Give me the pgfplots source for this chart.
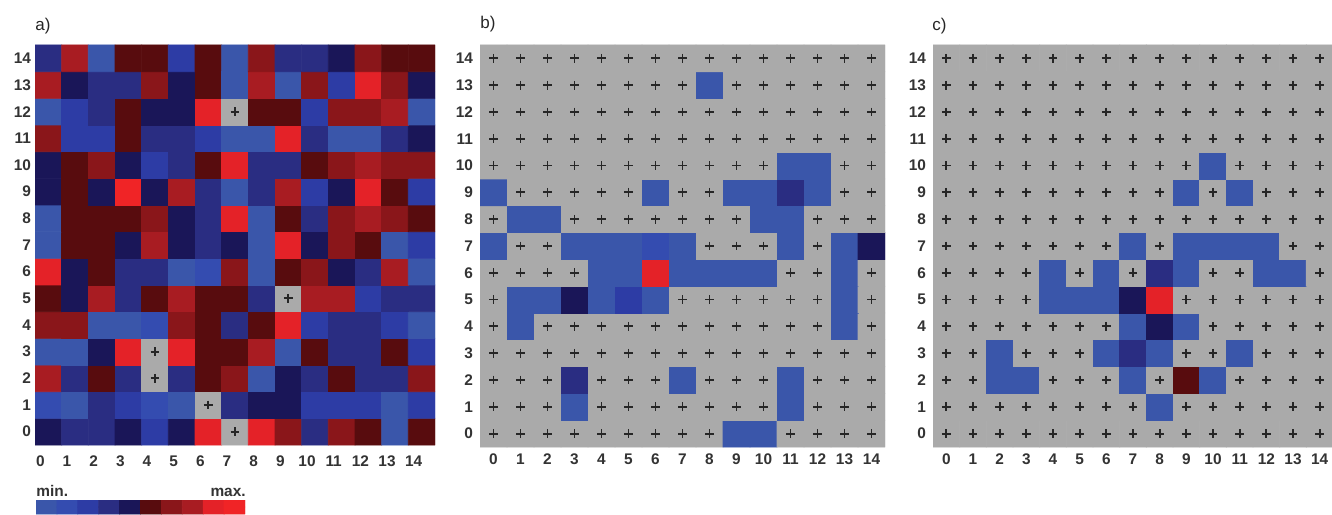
\documentclass[border=0pt]{standalone}
\usepackage{pgfplots}
\pgfplotsset{compat=1.18}
\usepackage{pgfplotstable}
\usepackage{fontspec}
\setmainfont{Liberation Sans}

\pgfplotsset{
  colormap={heat}{rgb255=(170,170,170) rgb255=(58,86,170) rgb255=(52,76,176) rgb255=(45,60,165) rgb255=(42,45,130) rgb255=(26,22,88) rgb255=(88,12,14) rgb255=(138,22,26) rgb255=(168,28,34) rgb255=(228,34,40) rgb255=(240,36,38)},
  panel/.style={scale only axis, anchor=south west,
    xmin=-0.5, xmax=14.5, ymin=-0.5, ymax=14.5, enlargelimits=false,
    xtick={0,...,14}, ytick={0,...,14},
    axis line style={draw=none}, major tick length=0pt,
    tick label style={font=\fontsize{7.7}{9}\selectfont\bfseries, text=black!80},
    /pgf/number format/assume math mode=true,
    colormap name=heat, colormap access=direct},
  plusmarks/.style={only marks, mark=+, mark size=2.2pt, black!85, mark options={line width=0.9pt}}
}

\pgfplotstableread[row sep=\\]{
x y c\\
0 0 5\\ 1 0 4\\ 2 0 4\\ 3 0 5\\ 4 0 3\\ 5 0 5\\ 6 0 9\\ 7 0 0\\ 8 0 9\\ 9 0 7\\ 10 0 4\\ 11 0 7\\ 12 0 6\\ 13 0 1\\ 14 0 6\\
0 1 2\\ 1 1 1\\ 2 1 4\\ 3 1 3\\ 4 1 2\\ 5 1 1\\ 6 1 0\\ 7 1 4\\ 8 1 5\\ 9 1 5\\ 10 1 3\\ 11 1 3\\ 12 1 3\\ 13 1 1\\ 14 1 3\\
0 2 8\\ 1 2 4\\ 2 2 6\\ 3 2 4\\ 4 2 0\\ 5 2 4\\ 6 2 6\\ 7 2 7\\ 8 2 1\\ 9 2 5\\ 10 2 4\\ 11 2 6\\ 12 2 4\\ 13 2 4\\ 14 2 7\\
0 3 1\\ 1 3 1\\ 2 3 5\\ 3 3 9\\ 4 3 0\\ 5 3 9\\ 6 3 6\\ 7 3 6\\ 8 3 8\\ 9 3 1\\ 10 3 6\\ 11 3 4\\ 12 3 4\\ 13 3 6\\ 14 3 3\\
0 4 7\\ 1 4 7\\ 2 4 1\\ 3 4 1\\ 4 4 2\\ 5 4 7\\ 6 4 6\\ 7 4 4\\ 8 4 6\\ 9 4 9\\ 10 4 3\\ 11 4 4\\ 12 4 4\\ 13 4 3\\ 14 4 1\\
0 5 6\\ 1 5 5\\ 2 5 8\\ 3 5 4\\ 4 5 6\\ 5 5 8\\ 6 5 6\\ 7 5 6\\ 8 5 4\\ 9 5 0\\ 10 5 8\\ 11 5 8\\ 12 5 3\\ 13 5 4\\ 14 5 4\\
0 6 9\\ 1 6 5\\ 2 6 6\\ 3 6 4\\ 4 6 4\\ 5 6 1\\ 6 6 2\\ 7 6 7\\ 8 6 1\\ 9 6 6\\ 10 6 7\\ 11 6 5\\ 12 6 4\\ 13 6 8\\ 14 6 1\\
0 7 1\\ 1 7 6\\ 2 7 6\\ 3 7 5\\ 4 7 8\\ 5 7 5\\ 6 7 4\\ 7 7 5\\ 8 7 1\\ 9 7 9\\ 10 7 5\\ 11 7 7\\ 12 7 6\\ 13 7 1\\ 14 7 3\\
0 8 1\\ 1 8 6\\ 2 8 6\\ 3 8 6\\ 4 8 7\\ 5 8 5\\ 6 8 4\\ 7 8 9\\ 8 8 1\\ 9 8 6\\ 10 8 4\\ 11 8 7\\ 12 8 8\\ 13 8 7\\ 14 8 6\\
0 9 5\\ 1 9 6\\ 2 9 5\\ 3 9 10\\ 4 9 5\\ 5 9 8\\ 6 9 4\\ 7 9 1\\ 8 9 4\\ 9 9 8\\ 10 9 3\\ 11 9 5\\ 12 9 9\\ 13 9 6\\ 14 9 3\\
0 10 5\\ 1 10 6\\ 2 10 7\\ 3 10 5\\ 4 10 3\\ 5 10 4\\ 6 10 6\\ 7 10 9\\ 8 10 4\\ 9 10 4\\ 10 10 6\\ 11 10 7\\ 12 10 8\\ 13 10 7\\ 14 10 7\\
0 11 7\\ 1 11 3\\ 2 11 3\\ 3 11 6\\ 4 11 4\\ 5 11 4\\ 6 11 3\\ 7 11 1\\ 8 11 1\\ 9 11 9\\ 10 11 4\\ 11 11 1\\ 12 11 1\\ 13 11 4\\ 14 11 5\\
0 12 1\\ 1 12 3\\ 2 12 4\\ 3 12 6\\ 4 12 5\\ 5 12 5\\ 6 12 9\\ 7 12 0\\ 8 12 6\\ 9 12 6\\ 10 12 3\\ 11 12 7\\ 12 12 7\\ 13 12 8\\ 14 12 1\\
0 13 8\\ 1 13 5\\ 2 13 4\\ 3 13 4\\ 4 13 7\\ 5 13 5\\ 6 13 6\\ 7 13 1\\ 8 13 8\\ 9 13 1\\ 10 13 7\\ 11 13 3\\ 12 13 9\\ 13 13 7\\ 14 13 5\\
0 14 4\\ 1 14 8\\ 2 14 1\\ 3 14 6\\ 4 14 6\\ 5 14 3\\ 6 14 6\\ 7 14 1\\ 8 14 7\\ 9 14 4\\ 10 14 4\\ 11 14 5\\ 12 14 7\\ 13 14 6\\ 14 14 6\\
}\tabA

\pgfplotstableread[row sep=\\]{
x y c\\
0 0 0\\ 1 0 0\\ 2 0 0\\ 3 0 0\\ 4 0 0\\ 5 0 0\\ 6 0 0\\ 7 0 0\\ 8 0 0\\ 9 0 1\\ 10 0 1\\ 11 0 0\\ 12 0 0\\ 13 0 0\\ 14 0 0\\
0 1 0\\ 1 1 0\\ 2 1 0\\ 3 1 1\\ 4 1 0\\ 5 1 0\\ 6 1 0\\ 7 1 0\\ 8 1 0\\ 9 1 0\\ 10 1 0\\ 11 1 1\\ 12 1 0\\ 13 1 0\\ 14 1 0\\
0 2 0\\ 1 2 0\\ 2 2 0\\ 3 2 4\\ 4 2 0\\ 5 2 0\\ 6 2 0\\ 7 2 1\\ 8 2 0\\ 9 2 0\\ 10 2 0\\ 11 2 1\\ 12 2 0\\ 13 2 0\\ 14 2 0\\
0 3 0\\ 1 3 0\\ 2 3 0\\ 3 3 0\\ 4 3 0\\ 5 3 0\\ 6 3 0\\ 7 3 0\\ 8 3 0\\ 9 3 0\\ 10 3 0\\ 11 3 0\\ 12 3 0\\ 13 3 0\\ 14 3 0\\
0 4 0\\ 1 4 1\\ 2 4 0\\ 3 4 0\\ 4 4 0\\ 5 4 0\\ 6 4 0\\ 7 4 0\\ 8 4 0\\ 9 4 0\\ 10 4 0\\ 11 4 0\\ 12 4 0\\ 13 4 1\\ 14 4 0\\
0 5 0\\ 1 5 1\\ 2 5 1\\ 3 5 5\\ 4 5 1\\ 5 5 3\\ 6 5 1\\ 7 5 0\\ 8 5 0\\ 9 5 0\\ 10 5 0\\ 11 5 0\\ 12 5 0\\ 13 5 1\\ 14 5 0\\
0 6 0\\ 1 6 0\\ 2 6 0\\ 3 6 0\\ 4 6 1\\ 5 6 1\\ 6 6 9\\ 7 6 1\\ 8 6 1\\ 9 6 1\\ 10 6 1\\ 11 6 0\\ 12 6 0\\ 13 6 1\\ 14 6 0\\
0 7 1\\ 1 7 0\\ 2 7 0\\ 3 7 1\\ 4 7 1\\ 5 7 1\\ 6 7 2\\ 7 7 1\\ 8 7 0\\ 9 7 0\\ 10 7 0\\ 11 7 1\\ 12 7 0\\ 13 7 1\\ 14 7 5\\
0 8 0\\ 1 8 1\\ 2 8 1\\ 3 8 0\\ 4 8 0\\ 5 8 0\\ 6 8 0\\ 7 8 0\\ 8 8 0\\ 9 8 0\\ 10 8 1\\ 11 8 1\\ 12 8 0\\ 13 8 0\\ 14 8 0\\
0 9 1\\ 1 9 0\\ 2 9 0\\ 3 9 0\\ 4 9 0\\ 5 9 0\\ 6 9 1\\ 7 9 0\\ 8 9 0\\ 9 9 1\\ 10 9 1\\ 11 9 4\\ 12 9 1\\ 13 9 0\\ 14 9 0\\
0 10 0\\ 1 10 0\\ 2 10 0\\ 3 10 0\\ 4 10 0\\ 5 10 0\\ 6 10 0\\ 7 10 0\\ 8 10 0\\ 9 10 0\\ 10 10 0\\ 11 10 1\\ 12 10 1\\ 13 10 0\\ 14 10 0\\
0 11 0\\ 1 11 0\\ 2 11 0\\ 3 11 0\\ 4 11 0\\ 5 11 0\\ 6 11 0\\ 7 11 0\\ 8 11 0\\ 9 11 0\\ 10 11 0\\ 11 11 0\\ 12 11 0\\ 13 11 0\\ 14 11 0\\
0 12 0\\ 1 12 0\\ 2 12 0\\ 3 12 0\\ 4 12 0\\ 5 12 0\\ 6 12 0\\ 7 12 0\\ 8 12 0\\ 9 12 0\\ 10 12 0\\ 11 12 0\\ 12 12 0\\ 13 12 0\\ 14 12 0\\
0 13 0\\ 1 13 0\\ 2 13 0\\ 3 13 0\\ 4 13 0\\ 5 13 0\\ 6 13 0\\ 7 13 0\\ 8 13 1\\ 9 13 0\\ 10 13 0\\ 11 13 0\\ 12 13 0\\ 13 13 0\\ 14 13 0\\
0 14 0\\ 1 14 0\\ 2 14 0\\ 3 14 0\\ 4 14 0\\ 5 14 0\\ 6 14 0\\ 7 14 0\\ 8 14 0\\ 9 14 0\\ 10 14 0\\ 11 14 0\\ 12 14 0\\ 13 14 0\\ 14 14 0\\
}\tabB

\pgfplotstableread[row sep=\\]{
x y c\\
0 0 0\\ 1 0 0\\ 2 0 0\\ 3 0 0\\ 4 0 0\\ 5 0 0\\ 6 0 0\\ 7 0 0\\ 8 0 0\\ 9 0 0\\ 10 0 0\\ 11 0 0\\ 12 0 0\\ 13 0 0\\ 14 0 0\\
0 1 0\\ 1 1 0\\ 2 1 0\\ 3 1 0\\ 4 1 0\\ 5 1 0\\ 6 1 0\\ 7 1 0\\ 8 1 1\\ 9 1 0\\ 10 1 0\\ 11 1 0\\ 12 1 0\\ 13 1 0\\ 14 1 0\\
0 2 0\\ 1 2 0\\ 2 2 1\\ 3 2 1\\ 4 2 0\\ 5 2 0\\ 6 2 0\\ 7 2 1\\ 8 2 0\\ 9 2 6\\ 10 2 1\\ 11 2 0\\ 12 2 0\\ 13 2 0\\ 14 2 0\\
0 3 0\\ 1 3 0\\ 2 3 1\\ 3 3 0\\ 4 3 0\\ 5 3 0\\ 6 3 1\\ 7 3 4\\ 8 3 1\\ 9 3 0\\ 10 3 0\\ 11 3 1\\ 12 3 0\\ 13 3 0\\ 14 3 0\\
0 4 0\\ 1 4 0\\ 2 4 0\\ 3 4 0\\ 4 4 0\\ 5 4 0\\ 6 4 0\\ 7 4 1\\ 8 4 5\\ 9 4 1\\ 10 4 0\\ 11 4 0\\ 12 4 0\\ 13 4 0\\ 14 4 0\\
0 5 0\\ 1 5 0\\ 2 5 0\\ 3 5 0\\ 4 5 1\\ 5 5 1\\ 6 5 1\\ 7 5 5\\ 8 5 9\\ 9 5 0\\ 10 5 0\\ 11 5 0\\ 12 5 0\\ 13 5 0\\ 14 5 0\\
0 6 0\\ 1 6 0\\ 2 6 0\\ 3 6 0\\ 4 6 1\\ 5 6 0\\ 6 6 1\\ 7 6 0\\ 8 6 4\\ 9 6 1\\ 10 6 0\\ 11 6 0\\ 12 6 1\\ 13 6 1\\ 14 6 0\\
0 7 0\\ 1 7 0\\ 2 7 0\\ 3 7 0\\ 4 7 0\\ 5 7 0\\ 6 7 0\\ 7 7 1\\ 8 7 0\\ 9 7 1\\ 10 7 1\\ 11 7 1\\ 12 7 1\\ 13 7 0\\ 14 7 0\\
0 8 0\\ 1 8 0\\ 2 8 0\\ 3 8 0\\ 4 8 0\\ 5 8 0\\ 6 8 0\\ 7 8 0\\ 8 8 0\\ 9 8 0\\ 10 8 0\\ 11 8 0\\ 12 8 0\\ 13 8 0\\ 14 8 0\\
0 9 0\\ 1 9 0\\ 2 9 0\\ 3 9 0\\ 4 9 0\\ 5 9 0\\ 6 9 0\\ 7 9 0\\ 8 9 0\\ 9 9 1\\ 10 9 0\\ 11 9 1\\ 12 9 0\\ 13 9 0\\ 14 9 0\\
0 10 0\\ 1 10 0\\ 2 10 0\\ 3 10 0\\ 4 10 0\\ 5 10 0\\ 6 10 0\\ 7 10 0\\ 8 10 0\\ 9 10 0\\ 10 10 1\\ 11 10 0\\ 12 10 0\\ 13 10 0\\ 14 10 0\\
0 11 0\\ 1 11 0\\ 2 11 0\\ 3 11 0\\ 4 11 0\\ 5 11 0\\ 6 11 0\\ 7 11 0\\ 8 11 0\\ 9 11 0\\ 10 11 0\\ 11 11 0\\ 12 11 0\\ 13 11 0\\ 14 11 0\\
0 12 0\\ 1 12 0\\ 2 12 0\\ 3 12 0\\ 4 12 0\\ 5 12 0\\ 6 12 0\\ 7 12 0\\ 8 12 0\\ 9 12 0\\ 10 12 0\\ 11 12 0\\ 12 12 0\\ 13 12 0\\ 14 12 0\\
0 13 0\\ 1 13 0\\ 2 13 0\\ 3 13 0\\ 4 13 0\\ 5 13 0\\ 6 13 0\\ 7 13 0\\ 8 13 0\\ 9 13 0\\ 10 13 0\\ 11 13 0\\ 12 13 0\\ 13 13 0\\ 14 13 0\\
0 14 0\\ 1 14 0\\ 2 14 0\\ 3 14 0\\ 4 14 0\\ 5 14 0\\ 6 14 0\\ 7 14 0\\ 8 14 0\\ 9 14 0\\ 10 14 0\\ 11 14 0\\ 12 14 0\\ 13 14 0\\ 14 14 0\\
}\tabC

\pgfplotstableread[row sep=\\]{
x y c\\
1 0 1\\ 2 0 2\\ 3 0 3\\ 4 0 4\\ 5 0 5\\ 6 0 6\\ 7 0 7\\ 8 0 8\\ 9 0 9\\ 10 0 10\\
1 1 1\\ 2 1 2\\ 3 1 3\\ 4 1 4\\ 5 1 5\\ 6 1 6\\ 7 1 7\\ 8 1 8\\ 9 1 9\\ 10 1 10\\
}\tabBar

\begin{document}
\begin{tikzpicture}
\useasboundingbox (0,0) rectangle (666pt,257pt);

% panel a
\begin{axis}[panel, at={(17.5pt,34.5pt)}, width=200pt, height=200pt,
  xticklabel style={xshift=-4pt, yshift=-2pt}, yticklabel style={xshift=1.5pt}]
\addplot[matrix plot*, mesh/cols=15, point meta=explicit] table[x=x, y=y, meta=c] {\tabA};
\addplot[plusmarks, restrict expr to domain={\thisrow{c}}{-0.5:0.5}] table[x=x, y=y] {\tabA};
\end{axis}

% panel b
\begin{axis}[panel, at={(240pt,33.5pt)}, width=202.5pt, height=201pt]
\addplot[matrix plot*, mesh/cols=15, point meta=explicit] table[x=x, y=y, meta=c] {\tabB};
\addplot[plusmarks, restrict expr to domain={\thisrow{c}}{-0.5:0.5}] table[x=x, y=y] {\tabB};
\end{axis}

% panel c
\begin{axis}[panel, at={(466.5pt,33.5pt)}, width=200pt, height=201pt]
\addplot[matrix plot*, mesh/cols=15, point meta=explicit] table[x=x, y=y, meta=c] {\tabC};
\addplot[plusmarks, restrict expr to domain={\thisrow{c}}{-0.5:0.5}] table[x=x, y=y] {\tabC};
\end{axis}

% colour scale
\begin{axis}[scale only axis, anchor=south west, at={(18pt,0pt)}, width=104.5pt, height=7pt,
  xmin=0.5, xmax=10.5, ymin=-0.5, ymax=1.5, enlargelimits=false, hide axis,
  colormap name=heat, colormap access=direct]
\addplot[matrix plot*, mesh/cols=10, point meta=explicit] table[x=x, y=y, meta=c] {\tabBar};
\end{axis}

\node[anchor=base west, font=\fontsize{7.7}{9}\selectfont\bfseries, text=black!80, inner sep=0pt] at (18pt,9pt) {min.};
\node[anchor=base east, font=\fontsize{7.7}{9}\selectfont\bfseries, text=black!80, inner sep=0pt] at (123pt,9pt) {max.};

\node[anchor=west, font=\fontsize{8.5}{10}\selectfont, text=black!85, inner sep=0pt] at (17.5pt,244pt) {a)};
\node[anchor=west, font=\fontsize{8.5}{10}\selectfont, text=black!85, inner sep=0pt] at (240pt,245pt) {b)};
\node[anchor=west, font=\fontsize{8.5}{10}\selectfont, text=black!85, inner sep=0pt] at (466pt,244pt) {c)};
\end{tikzpicture}
\end{document}
